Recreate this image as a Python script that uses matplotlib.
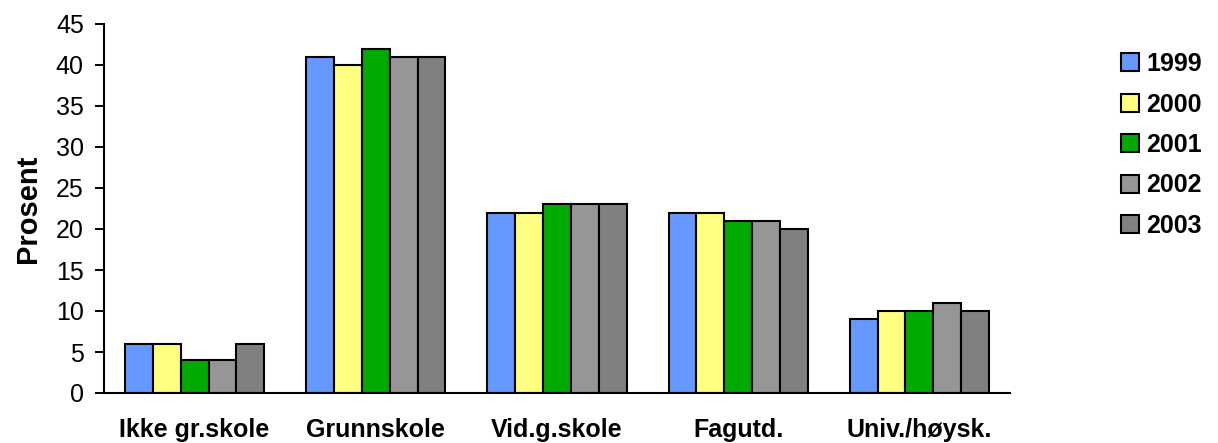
import numpy as np
import matplotlib.pyplot as plt

# Data
categories = ['Ikke gr.skole', 'Grunnskole', 'Vid.g.skole', 'Fagutd.', 'Univ./høysk.']
years = ['1999', '2000', '2001', '2002', '2003']
v1999 = [6, 41, 22, 22, 9]
v2000 = [6, 40, 22, 22, 10]
v2001 = [4, 42, 23, 21, 10]
v2002 = [4, 41, 23, 21, 11]
v2003 = [6, 41, 23, 20, 10]
series = [v1999, v2000, v2001, v2002, v2003]
colors = ['#6699FF', '#FFFF80', '#00AA00', '#969696', '#808080']

plt.rcParams['font.family'] = ['Liberation Sans', 'DejaVu Sans']

fig = plt.figure(figsize=(12.18, 4.43), dpi=100)
ax = fig.add_axes([104/1218, 1-393/443, (1010-104)/1218, (393-24)/443])

x = np.arange(len(categories))
bar_w = 1/6.5                                   # Excel style gap width 150%
for i, (vals, col, lab) in enumerate(zip(series, colors, years)):
    ax.bar(x + (i-2)*bar_w, vals, width=bar_w, color=col, edgecolor='black', linewidth=1.5, label=lab)

ax.set_xlim(-0.5, 4.5)
ax.set_ylim(0, 45)
ax.set_yticks(np.arange(0, 46, 5))
ax.set_xticks(x)
ax.set_xticklabels(categories, fontsize=18, fontweight='bold')
ax.tick_params(axis='x', length=0, pad=18)
ax.tick_params(axis='y', labelsize=18, length=6.5, width=1.4, pad=8)
ax.set_ylabel('Prosent', fontsize=21, fontweight='bold', labelpad=10)

for s in ['top', 'right']:
    ax.spines[s].set_visible(False)
for s in ['left', 'bottom']:
    ax.spines[s].set_linewidth(1.5)

fig.legend(loc='upper left', bbox_to_anchor=(1121/1218, 1-52/443), frameon=False,
           prop={'size': 18, 'weight': 'bold'}, borderpad=0, borderaxespad=0,
           handlelength=0.72, handleheight=0.72, handletextpad=0.28, labelspacing=0.66)

fig.savefig('out.png', dpi=100)
